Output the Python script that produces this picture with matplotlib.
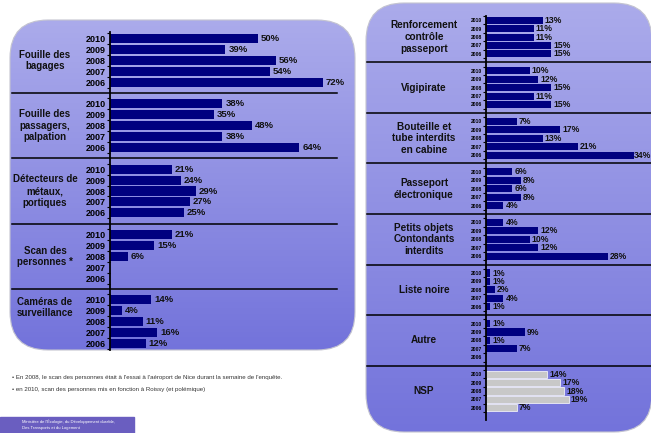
import numpy as np
import matplotlib
matplotlib.use("Agg")
from matplotlib import pyplot as plt
from matplotlib import transforms
from matplotlib.patches import FancyBboxPatch, Rectangle
from matplotlib.colors import LinearSegmentedColormap

# années (même ordre dans chaque groupe)
years = ["2010", "2009", "2008", "2007", "2006"]

# panneau gauche
left_groups = ["Fouille des\nbagages", "Fouille des\npassagers,\npalpation",
               "Détecteurs de\nmétaux,\nportiques", "Scan des\npersonnes *",
               "Caméras de\nsurveillance"]
left_values = [[50, 39, 56, 54, 72],
               [38, 35, 48, 38, 64],
               [21, 24, 29, 27, 25],
               [21, 15, 6, np.nan, np.nan],
               [14, 4, 11, 16, 12]]

# panneau droit
right_groups = ["Renforcement\ncontrôle\npasseport", "Vigipirate",
                "Bouteille et\ntube interdits\nen cabine", "Passeport\nélectronique",
                "Petits objets\nContondants\ninterdits", "Liste noire", "Autre", "NSP"]
right_values = [[13, 11, 11, 15, 15],
                [10, 12, 15, 11, 15],
                [7, 17, 13, 21, 34],
                [6, 8, 6, 8, 4],
                [4, 12, 10, 12, 28],
                [1, 1, 2, 4, 1],
                [1, 9, 1, 7, np.nan],
                [14, 17, 18, 19, 7]]

notes = ["• En 2008, le scan des personnes était à l'essai à l'aéroport de Nice durant la semaine de l'enquête.",
         "• en 2010, scan des personnes mis en fonction à Roissy (et polémique)"]
ministry = ["Ministère de l'Écologie, du Développement durable,",
            "Des Transports et du Logement"]

plt.rcParams['font.family'] = ['Liberation Sans', 'DejaVu Sans']

W, H = 651, 433
fig = plt.figure(figsize=(W / 100, H / 100), dpi=100)

# fond en pixels
bg = fig.add_axes([0, 0, 1, 1])
bg.axis('off')

cmap = LinearSegmentedColormap.from_list('panel', ['#ababeb', '#7373db'])
grad = np.linspace(0, 1, 256).reshape(-1, 1)


def panel(x0, y0, x1, y1, r):
    box = FancyBboxPatch((x0, y0), x1 - x0, y1 - y0,
                         boxstyle="round,pad=0,rounding_size=%d" % r,
                         facecolor='none', edgecolor='#c4c4d0', lw=0.8, zorder=2)
    bg.add_patch(box)
    im = bg.imshow(grad, cmap=cmap, extent=(x0, x1, y1, y0), aspect='auto', zorder=1)
    im.set_clip_path(box)


panel(10, 20, 355, 350, 38)
panel(366, 3, 652, 432, 38)
bg.set_xlim(0, W)
bg.set_ylim(H, 0)


def draw_bars(rect, xmax, values, groups, label_rows, label_x, sep_x,
              year_size, pct_size, group_size):
    x0, y0, x1, y1 = rect
    ax = fig.add_axes([x0 / W, 1 - y1 / H, (x1 - x0) / W, (y1 - y0) / H])
    ax.set_facecolor('none')
    blend = transforms.blended_transform_factory(bg.transData, ax.transData)
    rows, minor = [], []
    for g, vals in enumerate(values):
        r = g * 6 + np.arange(5)
        rows.extend(r)
        minor.extend(np.append(r - 0.5, r[-1] + 0.5))
        color = '#c8c8c8' if groups[g] == "NSP" else '#000080'
        edge = 'white' if groups[g] == "NSP" else 'none'
        ax.barh(r, vals, height=0.84, color=color, edgecolor=edge, lw=0.5)
        for yy, v in zip(r, vals):
            if np.isnan(v):
                continue
            ax.text(min(v + 0.012 * xmax, xmax - 4.0), yy, "%d%%" % v, va='center', ha='left',
                    fontsize=pct_size, fontweight='bold', color='#111111')
        ax.text(label_x, label_rows[g], groups[g], transform=blend, ha='center', va='center',
                fontsize=group_size, fontweight='bold', color='#111111', linespacing=1.2)
        if g < len(values) - 1:
            ax.plot(sep_x, [g * 6 + 5] * 2, transform=blend, color='black', lw=1.1, clip_on=False)
    n = len(values)
    ax.set_xlim(0, xmax)
    ax.set_ylim(n * 6 - 1.4 + (0 if n == 5 else 0.9), -0.6 if n == 5 else -0.5)
    ax.set_yticks(rows)
    ax.set_yticklabels(years * n, fontsize=year_size, fontweight='bold')
    ax.set_yticks(minor, minor=True)
    ax.tick_params(axis='y', which='major', length=0, pad=3)
    ax.tick_params(axis='y', which='minor', length=2.5, width=0.8, direction='out')
    ax.set_xticks([])
    for s in ['top', 'right', 'bottom']:
        ax.spines[s].set_visible(False)
    ax.spines['left'].set_linewidth(1.3)
    return ax


draw_bars((110, 32, 350, 350), 240 / 2.96, left_values, left_groups,
          [2, 8, 14, 20, 24.7], 45, [12, 337], 6.5, 6.8, 7.0)
draw_bars((486, 16, 651, 420.5), 165 / 4.36, right_values, right_groups,
          [g * 6 + 2 for g in range(8)], 424, [367, 651], 3.6, 6.2, 7.2)

# notes
bg.text(12, 378, notes[0], fontsize=4.4, color='#333333', va='center')
bg.text(12, 389, notes[1], fontsize=4.4, color='#333333', va='center')

# cartouche ministère
bg.add_patch(Rectangle((0, 417), 134, 17, color='#6a5ec0', zorder=3))
bg.text(22, 421.5, ministry[0], fontsize=3.0, color='white', va='center', zorder=4)
bg.text(22, 427.5, ministry[1], fontsize=3.0, color='white', va='center', zorder=4)

plt.savefig("out.png", dpi=100)
